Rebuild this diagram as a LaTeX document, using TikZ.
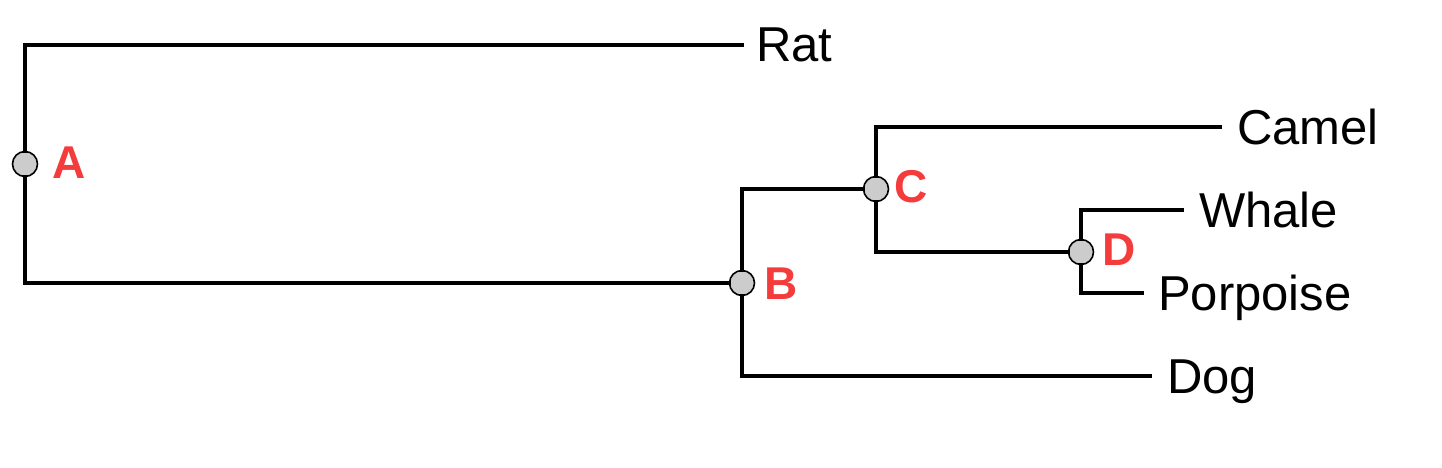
\documentclass[tikz,border=0pt]{standalone}
\usepackage{fontspec}
\setmainfont{Liberation Sans}
\definecolor{lblred}{RGB}{245,60,60}
\definecolor{dotgray}{RGB}{204,204,204}
\tikzset{
  branch/.style={line width=4.3pt, line join=miter, line cap=rect},
  innode/.style={circle, draw=black, line width=1.6pt, fill=dotgray, minimum size=25pt, inner sep=0pt},
  leaf/.style={anchor=base west, inner sep=0pt, font=\fontsize{49}{57}\selectfont},
  tag/.style={anchor=base west, inner sep=0pt, text=lblred, font=\fontsize{46}{54}\selectfont\bfseries}
}
\begin{document}
\begin{tikzpicture}[x=1pt, y=-1pt]
\useasboundingbox (0,0) rectangle (1442,468);
% internal nodes
\node[innode] (A) at (25,164) {};
\node[innode] (B) at (742,283) {};
\node[innode] (C) at (876,189) {};
\node[innode] (D) at (1081,252) {};
% leaf ends
\coordinate (rat) at (742,45);
\coordinate (camel) at (1220,127);
\coordinate (whale) at (1182,210);
\coordinate (porpoise) at (1142,293);
\coordinate (dog) at (1150,376);
% branches
\draw[branch] (A) |- (rat);
\draw[branch] (A) |- (B);
\draw[branch] (B) |- (C);
\draw[branch] (B) |- (dog);
\draw[branch] (C) |- (camel);
\draw[branch] (C) |- (D);
\draw[branch] (D) |- (whale);
\draw[branch] (D) |- (porpoise);
% leaf labels
\node[leaf] (tRat) at (756,62) {Rat};
\node[leaf] (tCamel) at (1237,144) {Camel};
\node[leaf] (tWhale) at (1199,227) {Whale};
\node[leaf] (tPorpoise) at (1158,310) {Porpoise};
\node[leaf] (tDog) at (1167,393) {Dog};
% node tags
\node[tag] (lA) at (52,178) {A};
\node[tag] (lB) at (764,299) {B};
\node[tag] (lC) at (894,202) {C};
\node[tag] (lD) at (1102,265) {D};
\end{tikzpicture}
\end{document}
